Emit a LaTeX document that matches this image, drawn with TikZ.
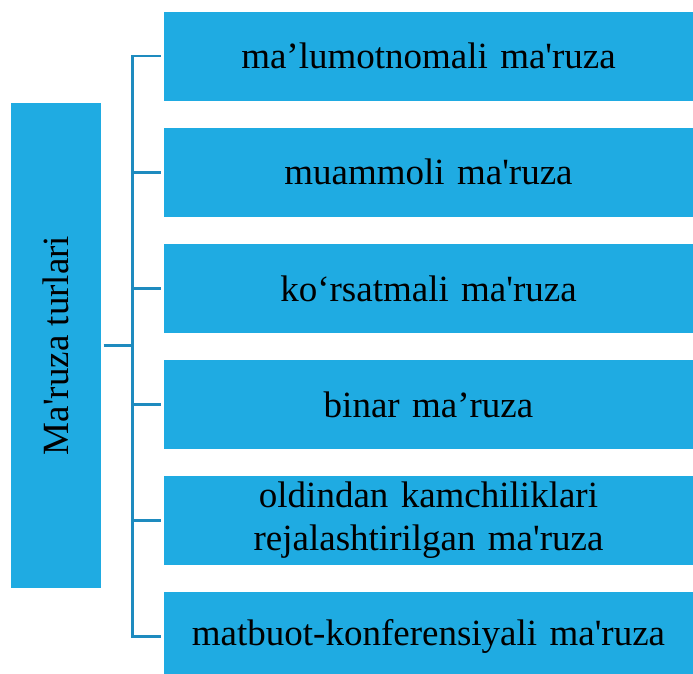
\documentclass[tikz,border=0pt]{standalone}
\usepackage{fontspec}
\setmainfont{Liberation Serif}[Ligatures=TeXOff]
\usetikzlibrary{positioning}

\definecolor{qutiko}{RGB}{31,171,226}
\definecolor{chiziqko}{RGB}{30,139,191}

\tikzset{
  tur/.style={fill=qutiko, minimum width=529pt, minimum height=89pt,
    text width=529pt, inner sep=0pt, align=center},
  ulagich/.style={draw=chiziqko, line width=2.5pt}
}

\begin{document}
\begin{tikzpicture}[x=1pt, y=1pt, node distance=26.7pt,
    every node/.style={font=\fontsize{37}{43}\selectfont}]
  \useasboundingbox (0,0) rectangle (693,673);
  \clip (0,0) rectangle (693,673);

  % turlar
  \node [tur] (t1) at (428.5,616.8) {ma’lumotnomali ma'ruza};
  \node [tur, below=of t1] (t2) {muammoli ma'ruza};
  \node [tur, below=of t2] (t3) {ko‘rsatmali ma'ruza};
  \node [tur, below=of t3] (t4) {binar ma’ruza};
  \node [tur, below=of t4] (t5) {oldindan kamchiliklari\\rejalashtirilgan ma'ruza};
  \node [tur, below=of t5] (t6) {matbuot-konferensiyali ma'ruza};

  \node [fill=qutiko, minimum width=90pt, minimum height=484pt, inner sep=0pt]
    (bosh) at (56,327.5) {\rotatebox{90}{Ma'ruza turlari}};

  % ulagichlar
  \coordinate (o) at (132.7,327.5);
  \draw [ulagich] ([xshift=-3pt]t1.west) -- (t1.west -| o)
    -- (t6.west -| o) -- ([xshift=-3pt]t6.west);
  \foreach \i in {2,...,5}
    \draw [ulagich] (t\i.west -| o) -- ([xshift=-3pt]t\i.west);
  \draw [ulagich] ([xshift=2.5pt]bosh.east) -- (o);
\end{tikzpicture}
\end{document}
